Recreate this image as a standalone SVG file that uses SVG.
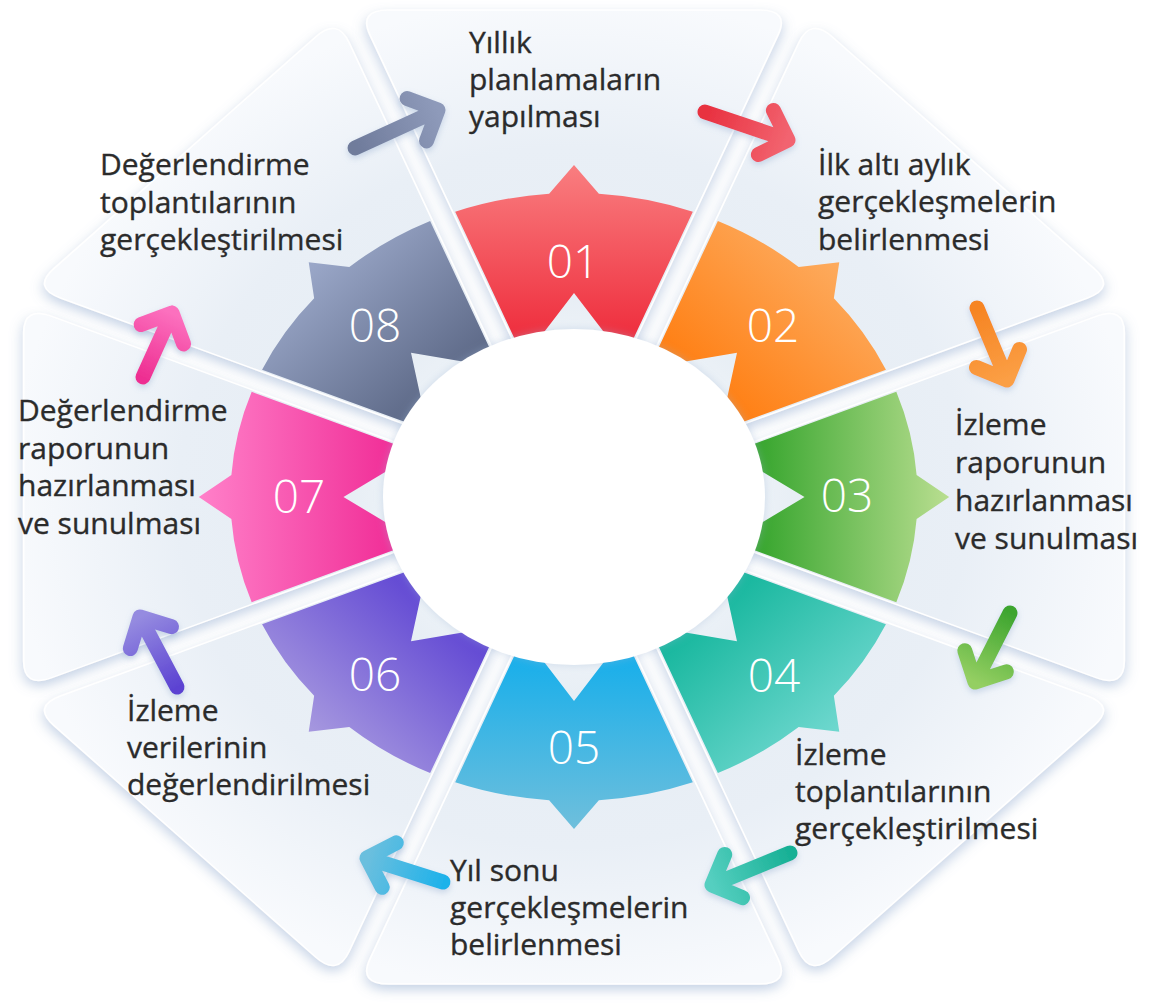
<svg xmlns="http://www.w3.org/2000/svg" width="1160" height="1007" viewBox="0 0 1160 1007">
<defs>
<style>
.lbl{font-family:"Open Sans","Liberation Sans",sans-serif;font-size:30px;fill:#2b2b2b;stroke:#2b2b2b;stroke-width:0.35px;}
.num{font-family:"Open Sans","Liberation Sans",sans-serif;font-size:46px;font-weight:300;fill:#ffffff;text-anchor:middle;}
.panel{fill:url(#pg);stroke:#ffffff;stroke-width:1.5;}
.arr{fill:none;stroke-width:15;stroke-linecap:round;stroke-linejoin:round;}
</style>
<radialGradient id="pg" gradientUnits="userSpaceOnUse" cx="0" cy="0" r="500">
<stop offset="0.3" stop-color="#eef3f8"/>
<stop offset="0.42" stop-color="#e6edf4"/>
<stop offset="0.7" stop-color="#e9eff6"/>
<stop offset="1" stop-color="#f8fafd"/>
</radialGradient>
<filter id="psh" x="-20%" y="-20%" width="140%" height="140%">
<feDropShadow dx="0" dy="5" stdDeviation="6" flood-color="#7f9cc6" flood-opacity="0.45"/>
</filter>
<filter id="csh" x="-20%" y="-20%" width="140%" height="140%">
<feDropShadow dx="0" dy="0" stdDeviation="4" flood-color="#9fb6d6" flood-opacity="0.4"/>
</filter>
<filter id="ash" x="-30%" y="-30%" width="160%" height="160%">
<feDropShadow dx="0" dy="3" stdDeviation="3" flood-color="#7f9cc6" flood-opacity="0.35"/>
</filter>
<path id="panelShape" d="M0,-26 L-180.6,-462.1 Q-190.9,-487 -164,-487 L164,-487 Q190.9,-487 180.6,-462.1 Z"/>
<path id="segShape" d="M-105.16,-285.23 A304,304 0 0 1 -22,-303.2 L0,-332 L22,-303.2 A304,304 0 0 1 105.16,-285.23 L49.97,-152 A160,160 0 0 0 32,-156.77 L0,-204 L-32,-156.77 A160,160 0 0 0 -49.97,-152 Z"/>
<linearGradient id="g1" x1="0" y1="1" x2="0" y2="0"><stop offset="0" stop-color="#ee2a3a"/><stop offset="1" stop-color="#f97e80"/></linearGradient>
<linearGradient id="g2" x1="0" y1="1" x2="0" y2="0"><stop offset="0" stop-color="#ff7d10"/><stop offset="1" stop-color="#fdab5e"/></linearGradient>
<linearGradient id="g3" x1="0" y1="1" x2="0" y2="0"><stop offset="0" stop-color="#2fa228"/><stop offset="1" stop-color="#b9de90"/></linearGradient>
<linearGradient id="g4" x1="0" y1="1" x2="0" y2="0"><stop offset="0" stop-color="#12b59b"/><stop offset="1" stop-color="#6fd8cf"/></linearGradient>
<linearGradient id="g5" x1="0" y1="1" x2="0" y2="0"><stop offset="0" stop-color="#14aeeb"/><stop offset="1" stop-color="#6fbfdc"/></linearGradient>
<linearGradient id="g6" x1="0" y1="1" x2="0" y2="0"><stop offset="0" stop-color="#5e44d3"/><stop offset="1" stop-color="#a698df"/></linearGradient>
<linearGradient id="g7" x1="0" y1="1" x2="0" y2="0"><stop offset="0" stop-color="#f02a95"/><stop offset="1" stop-color="#ff80c9"/></linearGradient>
<linearGradient id="g8" x1="0" y1="1" x2="0" y2="0"><stop offset="0" stop-color="#5b6785"/><stop offset="1" stop-color="#9ba8c9"/></linearGradient>
<linearGradient id="a1" gradientUnits="userSpaceOnUse" x1="355" y1="148" x2="438" y2="110"><stop offset="0" stop-color="#6f7b9b"/><stop offset="1" stop-color="#8e9aba"/></linearGradient>
<linearGradient id="a2" gradientUnits="userSpaceOnUse" x1="705" y1="112" x2="788" y2="140"><stop offset="0" stop-color="#e8303f"/><stop offset="1" stop-color="#f26470"/></linearGradient>
<linearGradient id="a3" gradientUnits="userSpaceOnUse" x1="977" y1="308" x2="1007" y2="380"><stop offset="0" stop-color="#f68422"/><stop offset="1" stop-color="#fb9f45"/></linearGradient>
<linearGradient id="a4" gradientUnits="userSpaceOnUse" x1="1010" y1="613" x2="975" y2="682"><stop offset="0" stop-color="#3ea52f"/><stop offset="1" stop-color="#94cf62"/></linearGradient>
<linearGradient id="a5" gradientUnits="userSpaceOnUse" x1="790" y1="853" x2="712" y2="885"><stop offset="0" stop-color="#17b095"/><stop offset="1" stop-color="#55cfc0"/></linearGradient>
<linearGradient id="a6" gradientUnits="userSpaceOnUse" x1="443" y1="882" x2="367" y2="858"><stop offset="0" stop-color="#1fb2ea"/><stop offset="1" stop-color="#6bbfde"/></linearGradient>
<linearGradient id="a7" gradientUnits="userSpaceOnUse" x1="177" y1="687" x2="140" y2="617"><stop offset="0" stop-color="#5c43d2"/><stop offset="1" stop-color="#958be0"/></linearGradient>
<linearGradient id="a8" gradientUnits="userSpaceOnUse" x1="143" y1="377" x2="172" y2="313"><stop offset="0" stop-color="#ee2f92"/><stop offset="1" stop-color="#fc70be"/></linearGradient>
</defs>

<rect x="0" y="0" width="1160" height="1007" fill="#ffffff"/>

<g id="node-01">
<g transform="translate(574,497) scale(1.13,1)">
<g filter="url(#psh)"><use href="#panelShape" class="panel"/></g>
<use href="#segShape" fill="url(#g1)"/>
</g>
<text class="num" x="573" y="278">01</text>
<text class="lbl"><tspan x="469" y="53">Yıllık</tspan><tspan x="469" y="90">planlamaların</tspan><tspan x="469" y="127">yapılması</tspan></text>
</g>

<g id="node-02">
<g transform="translate(574,497) scale(1.13,1)">
<g filter="url(#psh)"><use href="#panelShape" class="panel" transform="rotate(45)"/></g>
<use href="#segShape" fill="url(#g2)" transform="rotate(45)"/>
</g>
<text class="num" x="773" y="342">02</text>
<text class="lbl"><tspan x="818" y="175">İlk altı aylık</tspan><tspan x="818" y="212">gerçekleşmelerin</tspan><tspan x="818" y="250">belirlenmesi</tspan></text>
</g>

<g id="node-03">
<g transform="translate(574,497) scale(1.13,1)">
<g filter="url(#psh)"><use href="#panelShape" class="panel" transform="rotate(90)"/></g>
<use href="#segShape" fill="url(#g3)" transform="rotate(90)"/>
</g>
<text class="num" x="847" y="512">03</text>
<text class="lbl"><tspan x="955" y="435">İzleme</tspan><tspan x="955" y="473">raporunun</tspan><tspan x="955" y="511">hazırlanması</tspan><tspan x="955" y="549">ve sunulması</tspan></text>
</g>

<g id="node-04">
<g transform="translate(574,497) scale(1.13,1)">
<g filter="url(#psh)"><use href="#panelShape" class="panel" transform="rotate(135)"/></g>
<use href="#segShape" fill="url(#g4)" transform="rotate(135)"/>
</g>
<text class="num" x="774" y="692">04</text>
<text class="lbl"><tspan x="795" y="765">İzleme</tspan><tspan x="795" y="802">toplantılarının</tspan><tspan x="795" y="839">gerçekleştirilmesi</tspan></text>
</g>

<g id="node-05">
<g transform="translate(574,497) scale(1.13,1)">
<g filter="url(#psh)"><use href="#panelShape" class="panel" transform="rotate(180)"/></g>
<use href="#segShape" fill="url(#g5)" transform="rotate(180)"/>
</g>
<text class="num" x="574" y="764">05</text>
<text class="lbl"><tspan x="450" y="881">Yıl sonu</tspan><tspan x="450" y="918">gerçekleşmelerin</tspan><tspan x="450" y="955">belirlenmesi</tspan></text>
</g>

<g id="node-06">
<g transform="translate(574,497) scale(1.13,1)">
<g filter="url(#psh)"><use href="#panelShape" class="panel" transform="rotate(225)"/></g>
<use href="#segShape" fill="url(#g6)" transform="rotate(225)"/>
</g>
<text class="num" x="375" y="691">06</text>
<text class="lbl"><tspan x="127" y="721">İzleme</tspan><tspan x="127" y="758">verilerinin</tspan><tspan x="127" y="795">değerlendirilmesi</tspan></text>
</g>

<g id="node-07">
<g transform="translate(574,497) scale(1.13,1)">
<g filter="url(#psh)"><use href="#panelShape" class="panel" transform="rotate(270)"/></g>
<use href="#segShape" fill="url(#g7)" transform="rotate(270)"/>
</g>
<text class="num" x="299" y="513">07</text>
<text class="lbl"><tspan x="18" y="421">Değerlendirme</tspan><tspan x="18" y="459">raporunun</tspan><tspan x="18" y="496">hazırlanması</tspan><tspan x="18" y="534">ve sunulması</tspan></text>
</g>

<g id="node-08">
<g transform="translate(574,497) scale(1.13,1)">
<g filter="url(#psh)"><use href="#panelShape" class="panel" transform="rotate(315)"/></g>
<use href="#segShape" fill="url(#g8)" transform="rotate(315)"/>
</g>
<text class="num" x="375" y="342">08</text>
<text class="lbl"><tspan x="100" y="175">Değerlendirme</tspan><tspan x="100" y="213">toplantılarının</tspan><tspan x="100" y="250">gerçekleştirilmesi</tspan></text>
</g>

<g id="center">
<ellipse cx="574" cy="497" rx="191" ry="168" fill="#ffffff" filter="url(#csh)"/>
</g>

<g id="connectors" filter="url(#ash)">
<path class="arr" stroke="url(#a1)" d="M355,148 L438,110 M407.1,98.5 L438,110 L426.5,140.9"/>
<path class="arr" stroke="url(#a2)" d="M705,112 L788,140 M773.4,110.4 L788,140 L758.4,154.6"/>
<path class="arr" stroke="url(#a3)" d="M977,308 L1007,380 M1019.5,349.5 L1007,380 L976.5,367.5"/>
<path class="arr" stroke="url(#a4)" d="M1010,613 L975,682 M1006.4,671.8 L975,682 L964.8,650.7"/>
<path class="arr" stroke="url(#a5)" d="M790,853 L712,885 M742.5,897.7 L712,885 L724.7,854.5"/>
<path class="arr" stroke="url(#a6)" d="M443,882 L367,858 M382.2,887.3 L367,858 L396.3,842.8"/>
<path class="arr" stroke="url(#a7)" d="M177,687 L140,617 M130.3,648.5 L140,617 L171.5,626.7"/>
<path class="arr" stroke="url(#a8)" d="M143,377 L172,313 M141.1,324.6 L172,313 L183.6,343.9"/>
</g>
</svg>
